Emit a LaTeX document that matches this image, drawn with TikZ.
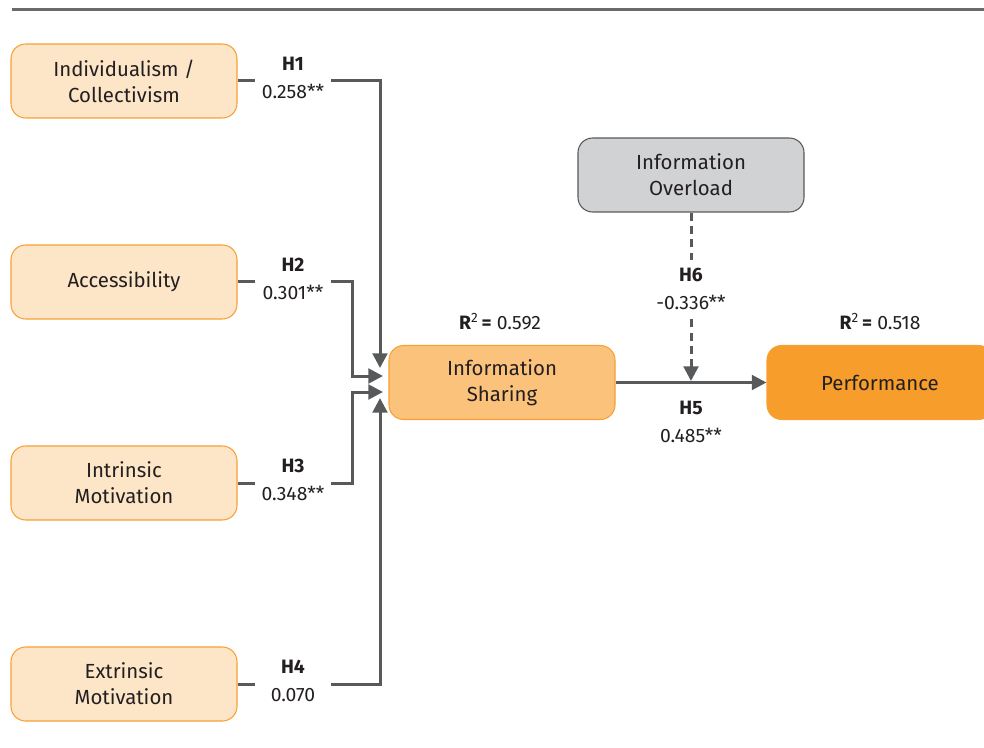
\documentclass[tikz,border=0pt]{standalone}
\usepackage{fontspec}
\setmainfont{Fira Sans}
\usetikzlibrary{arrows.meta}
\definecolor{linegray}{HTML}{58595B}
\definecolor{txt}{HTML}{231F20}
\definecolor{lightor}{HTML}{FDE6C8}
\definecolor{midor}{HTML}{FBC27C}
\definecolor{darkor}{HTML}{F79D2B}
\definecolor{orborder}{HTML}{F7A033}
\definecolor{graybox}{HTML}{D1D2D4}
\begin{document}
\begin{tikzpicture}[x=0.75pt,y=-0.75pt,
  box/.style={rectangle,rounded corners=11pt,minimum width=169.5pt,minimum height=55.5pt,
    draw=orborder,line width=0.8pt,align=center,text=txt,inner sep=0pt,
    font=\fontsize{15.3}{19.5}\selectfont},
  lightbox/.style={box,fill=lightor},
  midbox/.style={box,fill=midor},
  darkbox/.style={box,fill=darkor},
  greybox/.style={box,fill=graybox,draw=linegray},
  conn/.style={draw=linegray,line width=2.25pt},
  arr/.style={conn,-{Triangle[length=11pt,width=11pt]}},
  dasharr/.style={arr,dash pattern=on 6pt off 4pt},
  hlabel/.style={fill=white,align=center,text=txt,inner sep=0pt,minimum width=57pt,
    minimum height=44pt,font=\fontsize{14.5}{21}\selectfont},
  rlabel/.style={text=txt,inner sep=0pt,font=\fontsize{14.5}{16}\selectfont}
]
\useasboundingbox (0,0) rectangle (984,748);
\draw[draw=linegray!90,line width=2.25pt] (12,10) -- (990,10);

\node[lightbox] (ind) at (124,81) {Individualism /\\Collectivism};
\node[lightbox] (acc) at (124,282) {Accessibility};
\node[lightbox] (intr) at (124,483) {Intrinsic\\Motivation};
\node[lightbox] (ext) at (124,684) {Extrinsic\\Motivation};
\node[midbox] (share) at (502,382.5) {Information\\Sharing};
\node[darkbox] (perf) at (880,382.5) {Performance};
\node[greybox] (over) at (691,175) {Information\\Overload};

\coordinate (t1) at (380,368);
\coordinate (t2) at (383,376);
\coordinate (t3) at (383,392);
\coordinate (t4) at (380,398);
\coordinate (t6) at (691,381);

\draw[arr] (ind.east) -| (t1);
\draw[arr] (acc.east) -| (352,376) -- (t2);
\draw[arr] (intr.east) -| (352,392) -- (t3);
\draw[arr] (ext.east) -| (t4);
\draw[arr] (share.east) -- (perf.west);
\draw[dasharr] (over.south) -- (t6);

\node[hlabel] (l1) at (293,78) {\textbf{H1}\\0.258**};
\node[hlabel] (l2) at (293,279) {\textbf{H2}\\0.301**};
\node[hlabel] (l3) at (293,480) {\textbf{H3}\\0.348**};
\node[hlabel] (l4) at (293,681) {\textbf{H4}\\0.070};
\node[hlabel] (l6) at (691,289) {\textbf{H6}\\-0.336**};
\node[text=txt,align=center,inner sep=0pt,font=\fontsize{14.5}{21}\selectfont] (l5) at (691,422) {\textbf{H5}\\0.485**};

\node[rlabel] (r1) at (500,322) {\textbf{R}\textsuperscript{2}\,\textbf{=} 0.592};
\node[rlabel] (r2) at (880,322) {\textbf{R}\textsuperscript{2}\,\textbf{=} 0.518};
\end{tikzpicture}
\end{document}
